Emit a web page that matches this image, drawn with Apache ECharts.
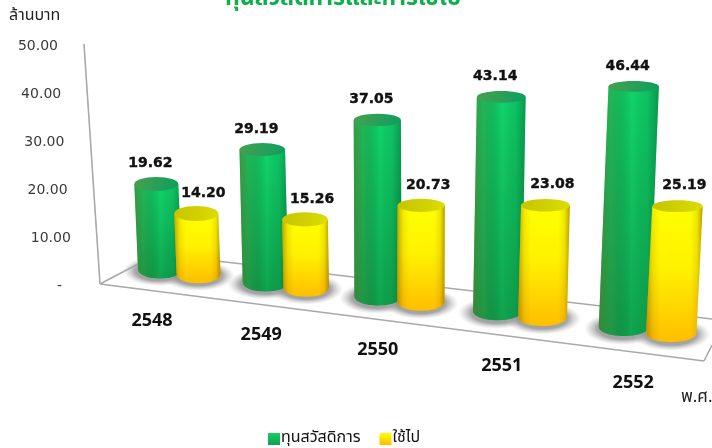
<!DOCTYPE html>
<html>
<head>
  <meta charset="utf-8">
  <title>ทุนสวัสดิการและการใช้ไป</title>
  <script src="https://cdn.jsdelivr.net/npm/echarts@6/dist/echarts.min.js"></script>
  <style>
    html, body { margin: 0; padding: 0; background: #fff; }
    #main { width: 712px; height: 448px; }
  </style>
</head>
<body>
  <div id="main"></div>
  <script>
    const categories = ['2548', '2549', '2550', '2551', '2552'];
    const fundValues = [19.62, 29.19, 37.05, 43.14, 46.44];
    const spentValues = [14.20, 15.26, 20.73, 23.08, 25.19];
    const yTicks = [0, 10, 20, 30, 40, 50];
    const seriesNames = ['ทุนสวัสดิการ', 'ใช้ไป'];

    const thaiFont = '"Noto Sans Thai", "Noto Sans", "DejaVu Sans", sans-serif';
    const grad = (x, y, x2, y2, stops) => new echarts.graphic.LinearGradient(x, y, x2, y2,
      stops.map(c => ({ offset: c[0], color: c[1] })));

    // 把平面坐标折算成透视效果：地面向右下倾斜，越靠右柱子越大
    function place(api, idx, value, side) {
      const flatBase = api.coord([idx, 0]);
      const flatTop = api.coord([idx, value]);
      const x = flatBase[0] + 3.5 * idx * idx + side * (38.5 + 2.2 * idx);
      const y = 269 + 0.124 * (x - 160);
      const scale = side ? (4.25 + 0.19 * idx) / 4.8 : (4.33 + 0.21 * idx) / 4.8;
      const h = (flatBase[1] - flatTop[1]) * scale;
      const lean = (x - 400) * h * 1.8e-4;
      return { x, y, topX: x + lean, topY: y - h, rx: 22 + 0.8 * idx };
    }

    const skins = [
      {
        body: [[0, '#0fd56b'], [0.6, '#10b95a'], [1, '#0fa54e']],
        edge: [[0, 'rgba(85,115,40,0.62)'], [0.2, 'rgba(70,120,50,0.32)'], [0.55, 'rgba(0,0,0,0)'], [0.8, 'rgba(0,70,40,0.12)'], [1, 'rgba(0,70,40,0.42)']],
        cap: [[0, '#45a050'], [1, '#0e9f5e']]
      },
      {
        body: [[0, '#ffff00'], [0.45, '#fff200'], [1, '#ffbe00']],
        edge: [[0, 'rgba(130,90,0,0.5)'], [0.12, 'rgba(130,90,0,0.12)'], [0.25, 'rgba(130,90,0,0)'], [0.78, 'rgba(130,90,0,0)'], [0.9, 'rgba(130,90,0,0.14)'], [1, 'rgba(130,80,0,0.55)']],
        cap: [[0, '#c6c400'], [1, '#dcdc00']]
      }
    ];

    function cylinder(side, labelDx) {
      return function (params, api) {
        const idx = api.value(0);
        const value = api.value(1);
        const p = place(api, idx, value, side);
        const skin = skins[side];
        const ryTop = 7 - 0.4 * idx + (side ? 0.5 : 0);
        const ryBot = 9.5;
        const d = [
          'M', p.topX - p.rx, p.topY,
          'L', p.x - p.rx, p.y,
          'C', p.x - p.rx, p.y + ryBot * 4 / 3, p.x + p.rx, p.y + ryBot * 4 / 3, p.x + p.rx, p.y,
          'L', p.topX + p.rx, p.topY, 'Z'
        ].join(' ');
        return {
          type: 'group',
          children: [
            { type: 'path', shape: { pathData: d }, style: { fill: grad(0, 0, 0, 1, skin.body) } },
            { type: 'path', shape: { pathData: d }, style: { fill: grad(0, 0, 1, 0, skin.edge) } },
            {
              type: 'ellipse',
              shape: { cx: p.topX, cy: p.topY, rx: p.rx, ry: ryTop },
              style: { fill: grad(0, 0, 1, 0, skin.cap) }
            },
            {
              type: 'text',
              style: {
                text: value.toFixed(2),
                x: p.topX + labelDx,
                y: p.topY - 20.5,
                align: 'center',
                verticalAlign: 'middle',
                font: 'bold 14px "DejaVu Sans"',
                fill: '#111',
                stroke: '#111',
                lineWidth: 0.4
              }
            }
          ]
        };
      };
    }

    function floorShadow(params, api) {
      const idx = api.value(0);
      const side = api.value(2);
      const p = place(api, idx, 0, side);
      const r = p.rx + 14;
      return {
        type: 'circle',
        x: p.x + (side ? 0 : -1),
        y: p.y + 2,
        scaleY: 0.42,
        shape: { cx: 0, cy: 0, r: r },
        style: {
          fill: new echarts.graphic.RadialGradient(0.5, 0.5, 0.5, [
            { offset: 0, color: 'rgba(140,140,140,0.95)' },
            { offset: 0.66, color: 'rgba(150,150,150,0.85)' },
            { offset: 1, color: 'rgba(190,190,190,0)' }
          ])
        }
      };
    }

    function wallLabels(params, api) {
      const v = api.value(0);
      const base = api.coord([0, v]);
      return {
        type: 'text',
        style: {
          text: v === 0 ? '-' : v.toFixed(2),
          x: v === 0 ? 62 : 74 - 0.32 * v,
          y: base[1] + 2,
          align: 'right',
          verticalAlign: 'middle',
          font: '14px "DejaVu Sans"',
          fill: '#3a3a3a'
        }
      };
    }

    function categoryLabels(params, api) {
      const idx = api.value(0);
      const p = place(api, idx, 0, 0);
      return {
        type: 'text',
        style: {
          text: categories[idx],
          x: p.x - 8 + 3.5 * idx + 0.2 * idx * idx,
          y: p.y + 51.5 + 1.3 * idx,
          align: 'center',
          verticalAlign: 'middle',
          font: 'bold 18px "Open Sans"',
          fill: '#111'
        }
      };
    }

    const frameLines = [
      [[84, 44], [100, 284]],
      [[100, 284], [157, 254]],
      [[157, 254], [712, 319]],
      [[100, 284], [704, 361]],
      [[704, 361], [712, 345]]
    ];

    const option = {
      animation: false,
      backgroundColor: '#fff',
      grid: { left: 109, width: 510, top: 44, height: 240 },
      xAxis: { type: 'category', data: categories, show: false },
      yAxis: { type: 'value', min: 0, max: 50, interval: 10, show: false },
      legend: {
        data: seriesNames,
        left: 263,
        top: 426,
        icon: 'rect',
        itemWidth: 12,
        itemHeight: 12,
        itemGap: 19,
        textStyle: { fontFamily: thaiFont, fontSize: 16, color: '#111', padding: [0, 0, 0, -4] }
      },
      graphic: [
        {
          type: 'text', left: 9, top: 9,
          style: { text: 'ล้านบาท', font: '16px ' + thaiFont, fill: '#222' }
        },
        {
          type: 'text', left: 681, top: 390,
          style: { text: 'พ.ศ.', font: '17px ' + thaiFont, fill: '#222' }
        },
        {
          type: 'text', left: 225, top: -11,
          style: { text: 'ทุนสวัสดิการและการใช้ไป', font: 'bold 23px ' + thaiFont, fill: '#0db14b' }
        }
      ].concat(frameLines.map(l => ({
        type: 'line', z: -1,
        shape: { x1: l[0][0], y1: l[0][1], x2: l[1][0], y2: l[1][1] },
        style: { stroke: '#a9a9a9', lineWidth: 1.6 }
      }))),
      series: [
        {
          name: 'ticks', type: 'custom', renderItem: wallLabels, z: 1,
          data: yTicks.map(v => [v]), encode: { y: 0 }, silent: true
        },
        {
          name: 'years', type: 'custom', renderItem: categoryLabels, z: 1,
          data: categories.map((c, i) => [i]), encode: { x: 0 }, silent: true
        },
        {
          name: 'shadow', type: 'custom', renderItem: floorShadow, z: 1,
          data: categories.map((c, i) => [i, 0, 0]).concat(categories.map((c, i) => [i, 0, 1])),
          encode: { x: 0, y: 1 }, silent: true
        },
        {
          name: seriesNames[0], type: 'custom', renderItem: cylinder(0, -6), z: 2,
          itemStyle: { color: grad(0, 0, 0, 1, [[0, '#15cf66'], [1, '#0fa04c']]) },
          data: fundValues.map((v, i) => [i, v]), encode: { x: 0, y: 1 }
        },
        {
          name: seriesNames[1], type: 'custom', renderItem: cylinder(1, 7), z: 3,
          itemStyle: { color: grad(0, 0, 0, 1, [[0, '#ffff00'], [1, '#ffbe00']]) },
          data: spentValues.map((v, i) => [i, v]), encode: { x: 0, y: 1 }
        }
      ]
    };

    const chart = echarts.init(document.getElementById('main'));
    chart.setOption(option);
  </script>
</body>
</html>
